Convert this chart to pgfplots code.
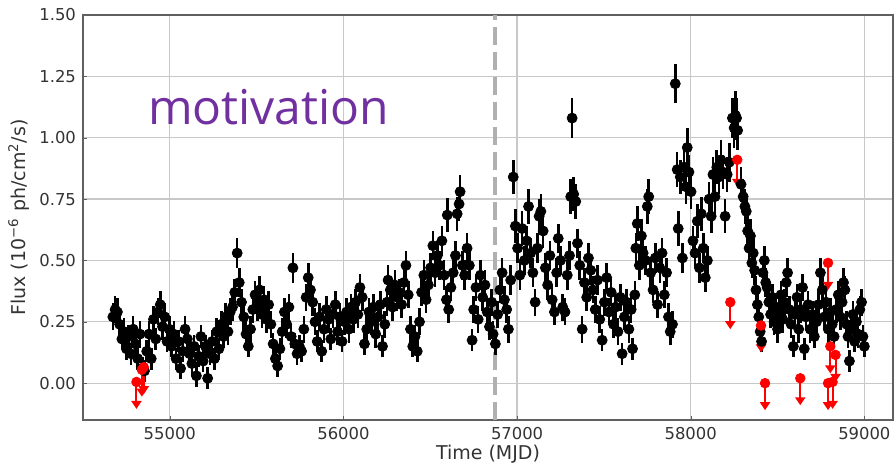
\documentclass[border=0pt]{standalone}
\usepackage{pgfplots}
\pgfplotsset{compat=1.18}
\usepackage{pgfplotstable}
\usetikzlibrary{arrows.meta}
\usepackage{fontspec}
\setmainfont{DejaVu Sans}
\newfontfamily\motfont{Open Sans}
\definecolor{motcolor}{HTML}{7030A0}
\definecolor{txtgray}{HTML}{333333}
\definecolor{gridgray}{HTML}{C8C8C8}
\definecolor{framegray}{HTML}{606060}
\definecolor{dashgray}{HTML}{B0B0B0}

\pgfplotstableread{
x y e
54672 0.27 0.055
54685 0.30 0.055
54698 0.29 0.055
54711 0.24 0.055
54724 0.18 0.045
54737 0.21 0.055
54750 0.14 0.045
54763 0.19 0.045
54776 0.12 0.045
54789 0.22 0.055
54802 0.16 0.045
54815 0.10 0.045
54828 0.20 0.055
54841 0.06 0.045
54854 0.05 0.045
54867 0.13 0.045
54880 0.20 0.055
54893 0.10 0.045
54906 0.26 0.055
54919 0.18 0.045
54932 0.29 0.055
54945 0.32 0.055
54958 0.23 0.055
54971 0.27 0.055
54984 0.17 0.045
54997 0.22 0.055
55010 0.15 0.045
55023 0.20 0.055
55036 0.10 0.045
55049 0.17 0.045
55062 0.06 0.045
55075 0.13 0.045
55088 0.22 0.055
55101 0.18 0.045
55114 0.12 0.045
55127 0.08 0.045
55140 0.15 0.045
55153 0.03 0.045
55166 0.11 0.045
55179 0.19 0.045
55192 0.09 0.045
55205 0.15 0.045
55218 0.02 0.045
55231 0.12 0.045
55244 0.17 0.045
55257 0.10 0.045
55270 0.21 0.055
55283 0.14 0.045
55296 0.24 0.055
55309 0.19 0.045
55322 0.27 0.055
55335 0.21 0.055
55348 0.29 0.055
55361 0.31 0.055
55374 0.37 0.055
55388 0.53 0.06
55400 0.41 0.06
55413 0.33 0.055
55426 0.27 0.055
55439 0.20 0.055
55452 0.15 0.045
55465 0.22 0.055
55478 0.30 0.055
55491 0.36 0.055
55504 0.31 0.055
55517 0.38 0.055
55530 0.28 0.055
55543 0.34 0.055
55556 0.26 0.055
55569 0.32 0.055
55582 0.24 0.055
55595 0.16 0.045
55608 0.10 0.045
55621 0.07 0.045
55634 0.14 0.045
55647 0.21 0.055
55660 0.29 0.055
55673 0.24 0.055
55686 0.31 0.055
55699 0.19 0.045
55709 0.47 0.06
55720 0.16 0.045
55733 0.12 0.045
55746 0.15 0.045
55759 0.13 0.045
55772 0.22 0.055
55785 0.35 0.055
55797 0.43 0.06
55810 0.38 0.055
55823 0.33 0.055
55836 0.25 0.055
55849 0.17 0.045
55862 0.27 0.055
55875 0.13 0.045
55888 0.22 0.055
55901 0.30 0.055
55914 0.26 0.055
55927 0.18 0.045
55940 0.28 0.055
55953 0.32 0.055
55966 0.21 0.055
55979 0.27 0.055
55992 0.17 0.045
56005 0.25 0.055
56018 0.29 0.055
56031 0.22 0.055
56044 0.31 0.055
56057 0.26 0.055
56070 0.33 0.055
56083 0.28 0.055
56095 0.39 0.055
56108 0.35 0.055
56121 0.16 0.045
56134 0.22 0.055
56147 0.29 0.055
56160 0.25 0.055
56173 0.31 0.055
56186 0.20 0.055
56199 0.27 0.055
56212 0.32 0.055
56225 0.15 0.045
56238 0.24 0.055
56251 0.33 0.055
56257 0.42 0.06
56270 0.38 0.055
56283 0.31 0.055
56296 0.40 0.06
56309 0.35 0.055
56322 0.37 0.055
56335 0.32 0.055
56348 0.41 0.06
56360 0.48 0.06
56373 0.36 0.055
56386 0.22 0.055
56399 0.15 0.045
56412 0.19 0.045
56425 0.13 0.045
56438 0.25 0.055
56450 0.37 0.055
56463 0.44 0.06
56476 0.34 0.055
56489 0.40 0.06
56502 0.47 0.06
56515 0.56 0.06
56528 0.45 0.06
56541 0.52 0.06
56554 0.48 0.06
56567 0.58 0.06
56580 0.44 0.06
56593 0.34 0.055
56598 0.685 0.07
56606 0.30 0.055
56619 0.39 0.055
56632 0.45 0.06
56645 0.52 0.06
56655 0.69 0.07
56666 0.73 0.07
56672 0.78 0.07
56685 0.48 0.06
56698 0.44 0.06
56712 0.55 0.06
56725 0.48 0.06
56741 0.175 0.045
56750 0.30 0.055
56763 0.39 0.055
56776 0.26 0.055
56789 0.44 0.06
56802 0.35 0.055
56815 0.40 0.06
56828 0.29 0.055
56841 0.23 0.055
56854 0.33 0.055
56862 0.20 0.055
56875 0.16 0.045
56888 0.28 0.055
56901 0.38 0.055
56914 0.45 0.06
56927 0.34 0.055
56940 0.30 0.055
56950 0.22 0.055
56963 0.42 0.06
56978 0.84 0.07
56990 0.64 0.07
57003 0.55 0.06
57016 0.44 0.06
57029 0.63 0.07
57042 0.50 0.06
57055 0.58 0.06
57066 0.72 0.07
57078 0.53 0.06
57091 0.45 0.06
57104 0.33 0.055
57117 0.55 0.06
57127 0.68 0.07
57137 0.70 0.07
57150 0.62 0.07
57163 0.47 0.06
57176 0.40 0.06
57189 0.52 0.06
57202 0.34 0.055
57215 0.29 0.055
57228 0.45 0.06
57237 0.59 0.06
57250 0.50 0.06
57263 0.31 0.055
57276 0.29 0.055
57289 0.44 0.06
57302 0.52 0.06
57309 0.76 0.07
57317 1.08 0.08
57326 0.77 0.07
57338 0.74 0.07
57348 0.57 0.06
57361 0.48 0.06
57375 0.22 0.055
57388 0.41 0.06
57401 0.35 0.055
57411 0.51 0.06
57424 0.46 0.06
57437 0.38 0.055
57450 0.30 0.055
57463 0.42 0.06
57476 0.26 0.055
57490 0.175 0.045
57503 0.33 0.055
57516 0.43 0.06
57529 0.29 0.055
57542 0.37 0.055
57555 0.24 0.055
57568 0.31 0.055
57581 0.21 0.055
57594 0.35 0.055
57605 0.12 0.045
57618 0.27 0.055
57631 0.33 0.055
57644 0.22 0.055
57657 0.30 0.055
57665 0.14 0.045
57678 0.36 0.055
57684 0.55 0.06
57692 0.65 0.07
57704 0.48 0.06
57716 0.60 0.07
57726 0.53 0.06
57740 0.50 0.06
57750 0.72 0.07
57758 0.76 0.07
57770 0.45 0.06
57783 0.38 0.055
57796 0.51 0.06
57809 0.32 0.055
57822 0.47 0.06
57835 0.53 0.06
57848 0.36 0.055
57861 0.45 0.06
57872 0.27 0.055
57882 0.21 0.055
57895 0.24 0.055
57911 1.22 0.08
57922 0.87 0.07
57928 0.63 0.07
57940 0.84 0.07
57952 0.51 0.06
57962 0.88 0.07
57973 0.80 0.07
57980 0.96 0.08
57990 0.86 0.07
58002 0.78 0.07
58013 0.58 0.06
58025 0.53 0.06
58038 0.66 0.07
58050 0.47 0.06
58061 0.69 0.07
58072 0.55 0.06
58084 0.43 0.06
58096 0.50 0.06
58106 0.75 0.07
58118 0.68 0.07
58128 0.85 0.07
58140 0.76 0.07
58150 0.88 0.07
58162 0.84 0.07
58174 0.91 0.08
58186 0.86 0.07
58198 0.68 0.07
58210 0.85 0.07
58222 0.90 0.08
58240 1.08 0.08
58250 1.04 0.08
58258 1.09 0.10
58264 1.08 0.08
58270 1.03 0.08
58290 0.81 0.07
58302 0.76 0.07
58312 0.72 0.07
58320 0.70 0.07
58328 0.62 0.07
58336 0.55 0.06
58344 0.60 0.07
58352 0.49 0.06
58360 0.53 0.06
58368 0.46 0.06
58376 0.38 0.055
58384 0.32 0.055
58392 0.27 0.055
58400 0.21 0.055
58408 0.17 0.045
58416 0.45 0.06
58424 0.50 0.06
58432 0.41 0.06
58440 0.39 0.055
58450 0.33 0.055
58460 0.28 0.055
58470 0.35 0.055
58480 0.25 0.055
58490 0.31 0.055
58500 0.22 0.055
58510 0.29 0.055
58520 0.36 0.055
58530 0.26 0.055
58540 0.33 0.055
58550 0.41 0.06
58558 0.45 0.06
58568 0.30 0.055
58578 0.24 0.055
58591 0.15 0.045
58601 0.28 0.055
58612 0.35 0.055
58622 0.22 0.055
58632 0.30 0.055
58644 0.39 0.055
58654 0.14 0.045
58664 0.27 0.055
58676 0.32 0.055
58688 0.22 0.055
58700 0.28 0.055
58712 0.19 0.045
58724 0.25 0.055
58736 0.32 0.055
58747 0.45 0.06
58758 0.38 0.055
58770 0.27 0.055
58780 0.33 0.055
58792 0.22 0.055
58804 0.29 0.055
58815 0.24 0.055
58826 0.19 0.045
58838 0.30 0.055
58850 0.36 0.055
58862 0.27 0.055
58872 0.33 0.055
58880 0.41 0.06
58888 0.38 0.055
58898 0.24 0.055
58906 0.19 0.045
58914 0.09 0.045
58924 0.22 0.055
58934 0.28 0.055
58944 0.17 0.045
58954 0.25 0.055
58964 0.20 0.055
58974 0.30 0.055
58984 0.33 0.055
58992 0.19 0.045
59000 0.15 0.045
}\datablack

\pgfplotstableread{
x y
54808 0.005
54839 0.055
54850 0.065
58228 0.33
58268 0.91
58405 0.235
58428 0.0
58631 0.02
58791 0.49
58791 0.0
58804 0.15
58817 0.005
58834 0.115
}\datared

\begin{document}
\begin{tikzpicture}
\begin{axis}[
  scale only axis,
  width=405pt, height=202.5pt,
  xmin=54500, xmax=59165,
  ymin=-0.15, ymax=1.5,
  xtick={55000,56000,57000,58000,59000},
  ytick={0,0.25,0.5,0.75,1.0,1.25,1.5},
  scaled x ticks=false,
  xticklabel style={/pgf/number format/.cd,1000 sep={},assume math mode=true},
  yticklabel style={/pgf/number format/.cd,fixed,fixed zerofill,precision=2,assume math mode=true},
  tick label style={font=\fontsize{8.2}{10}\selectfont, text=txtgray},
  label style={font=\fontsize{9.5}{11}\selectfont, text=txtgray},
  xlabel={Time (MJD)},
  ylabel={Flux (10\textsuperscript{−6} ph/cm\textsuperscript{2}/s)},
  xlabel style={yshift=4pt},
  ylabel style={yshift=-2pt},
  grid=major,
  major grid style={gridgray, line width=0.6pt},
  axis line style={framegray, line width=0.8pt},
  tick align=inside,
  tick pos=left,
  major tick length=2pt,
  major tick style={framegray},
  clip=false,
]
\coordinate (sw) at (rel axis cs:0,0);
\coordinate (ne) at (rel axis cs:1,1);
\addplot[dashgray, line width=2pt, dash pattern=on 9pt off 3.5pt] coordinates {(56873,-0.15) (56873,1.5)};
\addplot[black, only marks, mark=*, mark size=2.5pt,
  error bars/.cd, y dir=both, y explicit,
  error bar style={black, line width=1.3pt}, error mark=none]
  table[x=x, y=y, y error=e] {\datablack};
\addplot[red, line width=1pt, -{Triangle[width=5pt,length=4pt]},
  quiver={u=0, v=-0.11}] table[x=x, y=y] {\datared};
\addplot[red, only marks, mark=*, mark size=2.4pt] table[x=x, y=y] {\datared};
\node[anchor=base west, text=motcolor, font=\motfont\fontsize{24}{28}\selectfont, inner sep=0pt] at (axis cs:54873,1.052) {motivation};
\end{axis}
\pgfresetboundingbox
\path ([shift={(-41.5pt,-22.5pt)}]sw) rectangle ([shift={(0.5pt,7.5pt)}]ne);
\end{tikzpicture}
\end{document}
